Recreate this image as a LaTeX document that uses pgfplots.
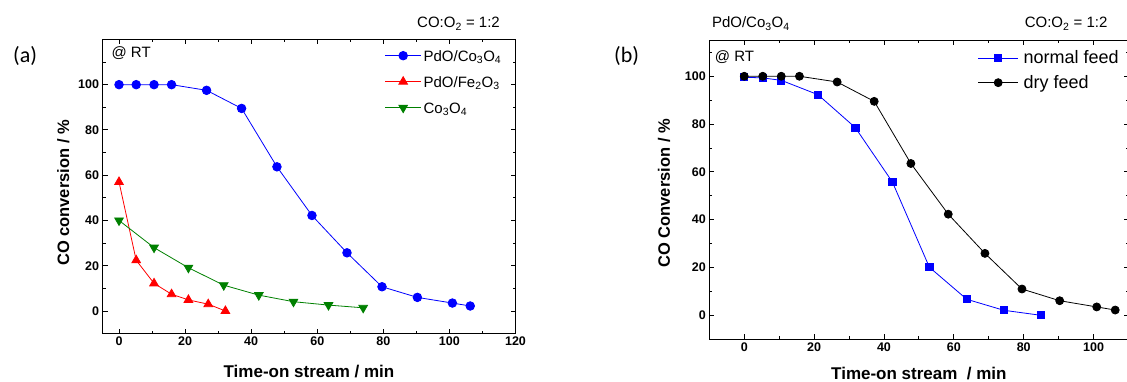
\documentclass[border=0pt]{standalone}
\usepackage{pgfplots}
\pgfplotsset{compat=1.18}
\usepackage{fontspec}
\setmainfont{Liberation Sans}
\newfontfamily\carlito{Carlito}
\definecolor{dkgreen}{RGB}{0,128,0}

\pgfplotstableread{
x y
0 100
5.2 100
10.6 100
15.9 100
26.5 97.5
37.1 89.5
47.8 63.7
58.4 42.2
69.0 25.7
79.6 10.7
90.3 6.0
100.9 3.5
106.3 2.2
}\pdoco
\pgfplotstableread{
x y
0 57
5.2 22.4
10.6 12.2
15.9 7.4
21.0 4.9
27.0 3.0
32.2 0.0
}\pdofe
\pgfplotstableread{
x y
0 40
10.6 28
21.0 19.1
31.7 11.4
42.3 7.0
52.8 4.1
63.4 2.6
73.9 1.4
}\coo
\pgfplotstableread{
x y
0 99.6
5.3 99.3
10.6 98.3
21.1 92.3
31.8 78.5
42.4 55.8
53.0 20.1
63.7 6.7
74.3 2.1
84.9 0
}\normalfeed
\pgfplotstableread{
x y
0 100
5.3 100
10.6 100
15.8 100
26.6 97.6
37.2 89.5
47.7 63.5
58.4 42.3
68.9 25.9
79.5 11.0
90.3 6.1
100.9 3.5
106.2 2.2
}\dryfeed

\begin{document}
\begin{tikzpicture}
\pgfplotsset{
  common/.style={
    scale only axis, anchor=south west,
    tick align=inside,
    axis line style={line width=1.1pt},
    major tick length=5pt, minor tick length=3pt,
    every tick/.style={black, line width=0.9pt},
    tick label style={font=\fontsize{12.5}{14}\selectfont\bfseries},
    /pgf/number format/assume math mode=true,
    label style={font=\fontsize{16.5}{18}\selectfont\bfseries},
    clip=false,
    legend cell align=left,
    legend image code/.code={\draw[mark repeat=2,mark phase=2,##1] plot coordinates {(0pt,0pt) (18pt,0pt) (36pt,0pt)};},
  }
}
% ---------------- (a) ----------------
\begin{axis}[common,
  at={(102.5pt,47.4pt)}, width=413pt, height=294.2pt,
  xmin=-5, xmax=120, ymin=-10, ymax=120,
  xtick={0,20,...,120}, minor xtick={10,30,...,110},
  ytick={0,20,...,100}, minor ytick={-10,10,...,110},
  xlabel={Time-on stream / min},
  ylabel={CO conversion / \%},
  xlabel style={at={(axis description cs:0.5,-0.1475)}, anchor=base, font=\fontsize{17}{19}\selectfont\bfseries},
  ylabel style={at={(axis description cs:-0.0811,0.478)}, anchor=base},
  legend style={at={(rel axis cs:0.683,0.9776)}, anchor=north west, draw=none, fill=none,
    inner sep=0pt, row sep=7pt, column sep=1pt, font=\fontsize{15}{17}\selectfont,
    nodes={inner sep=1pt, text height=14pt, text depth=3pt}},
]
\addplot[blue, line width=0.8pt, mark=*, mark size=4.3pt, mark options={fill=blue}] table {\pdoco};
\addlegendentry{PdO/Co\textsubscript{3}O\textsubscript{4}}
\addplot[red, line width=0.8pt, mark=triangle*, mark size=5pt, mark options={fill=red}] table {\pdofe};
\addlegendentry{PdO/Fe\textsubscript{2}O\textsubscript{3}}
\addplot[dkgreen, line width=0.8pt, mark=triangle*, mark size=5pt, mark options={fill=dkgreen, rotate=180}] table {\coo};
\addlegendentry{Co\textsubscript{3}O\textsubscript{4}}
\end{axis}
% ---------------- (b) ----------------
\begin{axis}[common,
  at={(709.3pt,41.8pt)}, width=419.2pt, height=298.8pt,
  xmin=-10, xmax=110, ymin=-10, ymax=115,
  xtick={0,20,...,100}, minor xtick={10,30,...,90},
  ytick={0,20,...,100}, minor ytick={10,30,...,110},
  xlabel={Time-on stream\ \ / min},
  ylabel={CO Conversion / \%},
  xlabel style={at={(axis description cs:0.5,-0.135)}, anchor=base, font=\fontsize{17}{19}\selectfont\bfseries},
  ylabel style={at={(axis description cs:-0.0938,0.488)}, anchor=base},
  legend style={at={(rel axis cs:0.640,0.977)}, anchor=north west, draw=none, fill=none,
    inner sep=0pt, row sep=3.7pt, column sep=4pt, font=\fontsize{18}{20}\selectfont,
    nodes={inner sep=1pt, text height=15pt, text depth=4pt}},
  legend image code/.code={\draw[mark repeat=2,mark phase=2,#1] plot coordinates {(0pt,0pt) (20pt,0pt) (40pt,0pt)};},
]
\addplot[blue, line width=0.8pt, mark=square*, mark size=3.6pt, mark options={fill=blue}] table {\normalfeed};
\addlegendentry{normal feed}
\addplot[black, line width=0.8pt, mark=*, mark size=4pt, mark options={fill=black}] table {\dryfeed};
\addlegendentry{dry feed}
\end{axis}
% ---------------- annotations ----------------
\begin{scope}[every node/.style={inner sep=0pt, font=\fontsize{15}{17}\selectfont}]
\node[anchor=base west] at (417pt,353pt) {CO:O\textsubscript{2} = 1:2};
\node[anchor=base west] at (1024.6pt,353pt) {CO:O\textsubscript{2} = 1:2};
\node[anchor=base west] at (711.8pt,353pt) {PdO/Co\textsubscript{3}O\textsubscript{4}};
\node[anchor=base west] at (111.4pt,323pt) {@ RT};
\node[anchor=base west] at (714.7pt,319pt) {@ RT};
\node[anchor=base west, font=\carlito\fontsize{22}{26}\selectfont] at (13pt,318pt) {(a)};
\node[anchor=base west, font=\carlito\fontsize{22}{26}\selectfont] at (614pt,318pt) {(b)};
\end{scope}
\pgfresetboundingbox
\path[use as bounding box] (0pt,0pt) rectangle (1127pt,381pt);
\end{tikzpicture}
\end{document}
